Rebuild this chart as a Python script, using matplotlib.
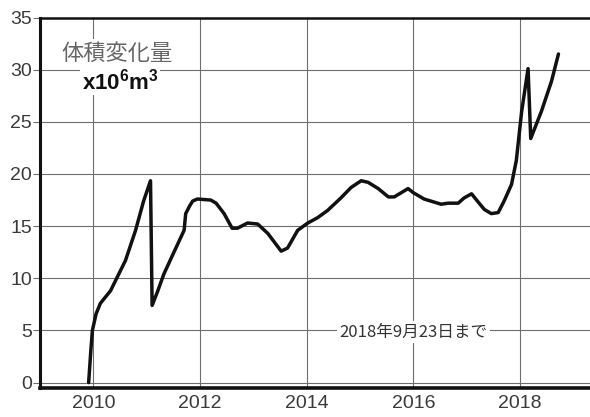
import matplotlib
matplotlib.use("Agg")
import matplotlib.pyplot as plt

plt.rcParams["font.family"] = ["Liberation Sans", "Noto Sans CJK JP", "DejaVu Sans"]
plt.rcParams["mathtext.fontset"] = "custom"
plt.rcParams["mathtext.bf"] = "Liberation Sans:bold"
plt.rcParams["mathtext.rm"] = "Liberation Sans"

# volume change curve (decimal year, 10^6 m^3)
years = [2009.91, 2009.95, 2009.98, 2010.05, 2010.13, 2010.32, 2010.6, 2010.79,
         2010.94, 2011.07, 2011.1, 2011.2, 2011.32, 2011.5, 2011.7, 2011.73,
         2011.8, 2011.86, 2011.95, 2012.2, 2012.3, 2012.45, 2012.6, 2012.7,
         2012.89, 2013.08, 2013.27, 2013.52, 2013.64, 2013.83, 2014.02, 2014.2,
         2014.39, 2014.64, 2014.83, 2015.02, 2015.15, 2015.34, 2015.53, 2015.64,
         2015.77, 2015.9, 2016.0, 2016.2, 2016.52, 2016.65, 2016.84, 2016.95,
         2017.09, 2017.2, 2017.33, 2017.46, 2017.59, 2017.7, 2017.84, 2017.93,
         2018.03, 2018.15, 2018.2, 2018.4, 2018.59, 2018.72]
volume = [0.0, 3.0, 5.0, 6.6, 7.6, 8.8, 11.7, 14.6,
          17.4, 19.35, 7.4, 8.7, 10.4, 12.4, 14.6, 16.2,
          16.9, 17.4, 17.6, 17.5, 17.2, 16.2, 14.8, 14.8,
          15.3, 15.2, 14.3, 12.6, 12.9, 14.6, 15.3, 15.8,
          16.5, 17.7, 18.7, 19.35, 19.2, 18.6, 17.8, 17.8,
          18.2, 18.6, 18.2, 17.6, 17.1, 17.2, 17.2, 17.7,
          18.1, 17.4, 16.6, 16.2, 16.3, 17.4, 19.0, 21.3,
          26.0, 30.1, 23.4, 26.0, 28.9, 31.5]

x_ticks = [2010, 2012, 2014, 2016, 2018]
y_ticks = [0, 5, 10, 15, 20, 25, 30, 35]

fig = plt.figure(figsize=(5.9, 4.17), dpi=100)
ax = fig.add_axes([0.068, 0.07, 0.94, 0.888])

ax.plot(years, volume, color="#111111", lw=2.5, solid_joinstyle="round",
        solid_capstyle="round", zorder=3)

ax.set_xlim(2009.0, 2019.4)
ax.set_ylim(-0.5, 35)
ax.set_xticks(x_ticks)
ax.set_yticks(y_ticks)
ax.grid(True, color="#6e6e6e", lw=0.8)
ax.set_axisbelow(True)

ax.tick_params(axis="x", length=0, pad=5, labelsize=14, labelcolor="#3a3a3a")
ax.tick_params(axis="y", length=5, width=0.8, color="#6e6e6e", pad=1,
               labelsize=14, labelcolor="#3a3a3a")

ax.spines["right"].set_visible(False)
ax.spines["left"].set_linewidth(2.2)
ax.spines["bottom"].set_linewidth(2.6)
ax.spines["top"].set_linewidth(1.8)
for s in ax.spines.values():
    s.set_color("#111111")

ax.text(2010.45, 31.6, "体積変化量", ha="center", va="center", fontsize=16,
        color="#666666", family=["Noto Sans CJK JP", "DejaVu Sans"],
        bbox=dict(fc="white", ec="none", pad=2), zorder=4)
ax.text(2010.5, 28.9, r"$\mathbf{x10^6m^3}$", ha="center", va="center",
        fontsize=16, color="#111111",
        bbox=dict(fc="white", ec="none", pad=1), zorder=4)
ax.text(2016.0, 4.85, "2018年9月23日まで", ha="center", va="center",
        fontsize=12, color="#333333",
        family=["Noto Sans CJK JP", "DejaVu Sans"],
        bbox=dict(fc="white", ec="none", pad=2), zorder=4)

fig.savefig("out.png", dpi=100)
